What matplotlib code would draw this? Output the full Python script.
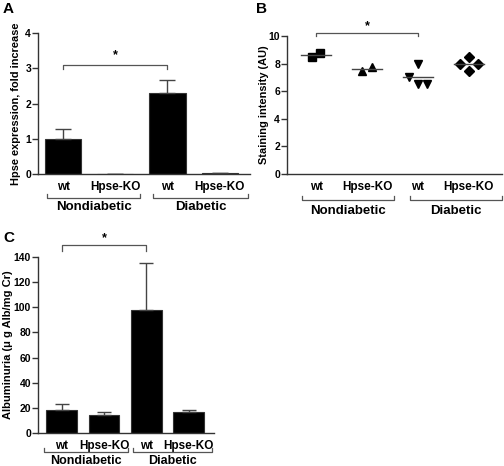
import numpy as np
import matplotlib.pyplot as plt
import matplotlib.transforms as mtransforms

plt.rcParams['font.family'] = ['Liberation Sans', 'DejaVu Sans']
plt.rcParams['font.weight'] = 'bold'
plt.rcParams['font.size'] = 8

labels = ['wt', 'Hpse-KO', 'wt', 'Hpse-KO']
groups = ['Nondiabetic', 'Diabetic']

# panel A: Hpse expression
hpse_mean = [1.0, 0.01, 2.3, 0.03]
hpse_err = [0.27, 0.0, 0.38, 0.0]

# panel B: staining intensity, individual points and medians
stain_pts = [[8.5, 8.75], [7.5, 7.75], [8.0, 7.0, 6.5, 6.5], [8.5, 8.0, 8.0, 7.5]]
stain_dx = [[-0.08, 0.08], [-0.1, 0.1], [0.0, -0.17, 0.0, 0.17], [0.0, -0.17, 0.17, 0.0]]
stain_med = [8.6, 7.6, 7.0, 8.0]
stain_mk = ['s', '^', 'v', 'D']

# panel C: albuminuria
alb_mean = [18, 14, 98, 17]
alb_err = [5, 3, 37, 1.5]

W, H = 504, 466
fig = plt.figure(figsize=(W / 100, H / 100), dpi=100)
axc = '#333333'

def make_ax(l, t, r, b):
    ax = fig.add_axes([l / W, 1 - b / H, (r - l) / W, (b - t) / H])
    for s in ['top', 'right']:
        ax.spines[s].set_visible(False)
    for s in ['left', 'bottom']:
        ax.spines[s].set_color(axc)
        ax.spines[s].set_linewidth(1.0)
    ax.tick_params(axis='x', length=0, pad=5, labelsize=8.5)
    ax.tick_params(axis='y', length=4, width=1.0, color=axc, pad=1, labelsize=7.5)
    ax.set_xticks([1, 2, 3, 4])
    ax.set_xticklabels(labels, fontweight='bold')
    return ax

def group_brackets(ax, spans, yb, yl, fs=9.5):
    tr = mtransforms.blended_transform_factory(ax.transData, ax.transAxes)
    for (x0, x1), g in zip(spans, groups):
        ax.plot([x0, x0, x1, x1], [yb + 0.025, yb, yb, yb + 0.025], color='#555555',
                lw=0.9, transform=tr, clip_on=False)
        ax.text((x0 + x1) / 2, yl, g, transform=tr, ha='center', va='center',
                fontsize=fs, fontweight='bold')

def sig(ax, x0, x1, y, drop, ys):
    ax.plot([x0, x0, x1, x1], [y - drop, y, y, y - drop], color='#555555', lw=0.9,
            clip_on=False)
    ax.text((x0 + x1) / 2, ys, '*', ha='center', va='center', fontsize=9,
            fontweight='bold', clip_on=False)

x = np.arange(1, 5)

# A
axA = make_ax(38, 33, 250, 174)
axA.bar(x, hpse_mean, width=0.69, color='black', edgecolor=axc, linewidth=0.8)
axA.errorbar(x, hpse_mean, yerr=[np.zeros(4), hpse_err], fmt='none', ecolor='#444444',
             elinewidth=1.0, capsize=6, capthick=1.0)
axA.set_xlim(0.52, 4.58)
axA.set_ylim(0, 4)
axA.set_yticks([0, 1, 2, 3, 4])
axA.set_ylabel('Hpse expression, fold increase', fontsize=7.9, fontweight='bold')
axA.yaxis.set_label_coords(-0.08, 0.5)
sig(axA, 1, 3, 3.1, 0.12, 3.36)
group_brackets(axA, [(0.69, 2.48), (2.73, 4.55)], -0.17, -0.234)

# B
axB = make_ax(287, 36, 502, 174)
for i in range(4):
    xs = x[i] + np.array(stain_dx[i])
    axB.plot(xs, stain_pts[i], linestyle='none', marker=stain_mk[i], color='black',
             markersize=5.5 if stain_mk[i] != 'D' else 5, clip_on=False)
    axB.plot([x[i] - 0.3, x[i] + 0.3], [stain_med[i]] * 2, color='#444444', lw=1.0)
axB.set_xlim(0.43, 4.65)
axB.set_ylim(0, 10)
axB.set_yticks([0, 2, 4, 6, 8, 10])
axB.set_ylabel('Staining intensity (AU)', fontsize=7.9, fontweight='bold')
axB.yaxis.set_label_coords(-0.084, 0.5)
sig(axB, 1, 3, 10.2, 0.22, 10.7)
group_brackets(axB, [(0.73, 2.53), (2.84, 4.65)], -0.188, -0.268)

# C
axC = make_ax(38, 257, 214, 433)
axC.bar(x, alb_mean, width=0.73, color='black', edgecolor=axc, linewidth=0.8)
axC.errorbar(x, alb_mean, yerr=[np.zeros(4), alb_err], fmt='none', ecolor='#444444',
             elinewidth=1.0, capsize=5, capthick=1.0)
axC.set_xlim(0.44, 4.6)
axC.set_ylim(0, 140)
axC.set_yticks(np.arange(0, 141, 20))
axC.set_ylabel('Albuminuria (\u03bc g Alb/mg Cr)', fontsize=8, fontweight='bold')
axC.yaxis.set_label_coords(-0.142, 0.5)
sig(axC, 1, 3, 149.5, 4.5, 155)
group_brackets(axC, [(0.58, 2.57), (2.69, 4.55)], -0.108, -0.159, fs=9)

for lab, px, py in [('A', 3, 9), ('B', 256, 9), ('C', 3, 238)]:
    fig.text(px / W, 1 - py / H, lab, fontsize=11, fontweight='bold', va='center')

fig.savefig('out.png', dpi=100)
